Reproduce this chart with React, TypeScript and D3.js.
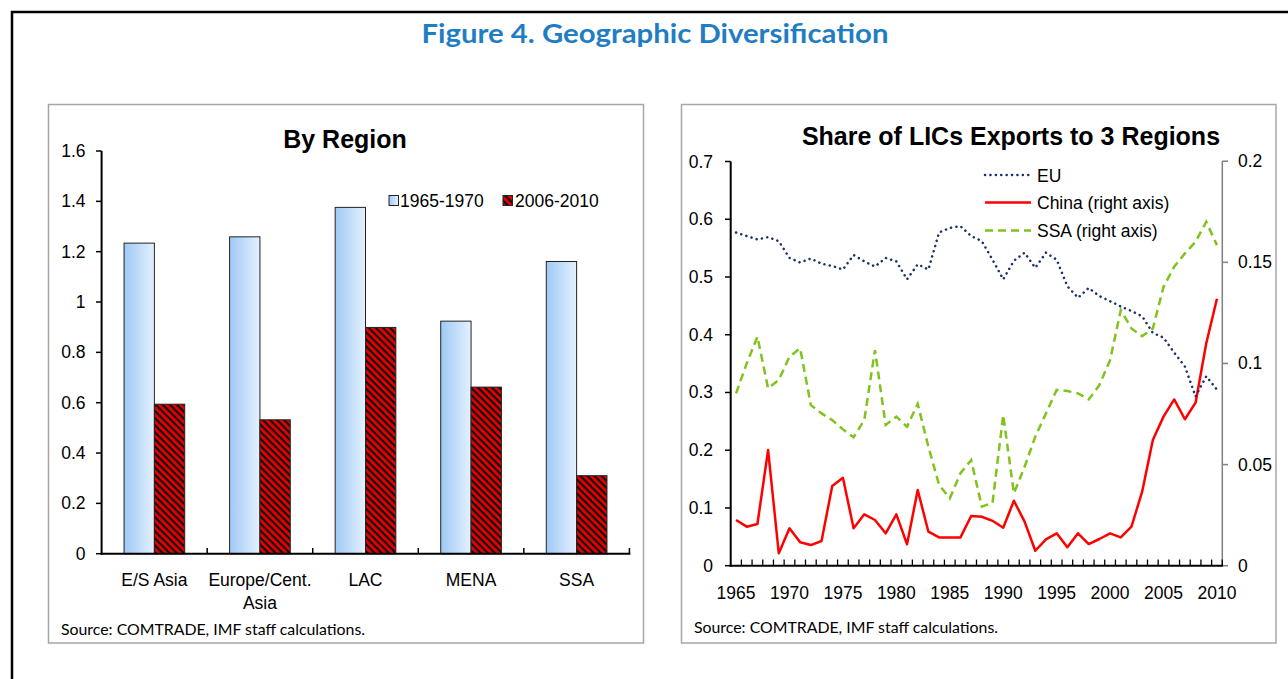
import React from "react";
import * as d3 from "d3";

const categories = ["E/S Asia", "Europe/Cent.|Asia", "LAC", "MENA", "SSA"];
const series1965 = [1.234, 1.259, 1.376, 0.924, 1.161];
const series2006 = [0.594, 0.532, 0.899, 0.662, 0.31];
const barSeries = ["1965-1970", "2006-2010"];
const leftTicks = [0, 0.2, 0.4, 0.6, 0.8, 1, 1.2, 1.4, 1.6];

const years = d3.range(1965, 2011);
const euShare = [0.577,0.571,0.565,0.569,0.562,0.533,0.525,0.532,0.523,0.519,0.513,0.538,0.527,0.518,0.533,0.527,0.496,0.522,0.513,0.577,0.585,0.588,0.571,0.562,0.530,0.496,0.528,0.542,0.516,0.542,0.530,0.484,0.464,0.481,0.467,0.458,0.449,0.441,0.432,0.403,0.395,0.369,0.345,0.293,0.328,0.305];
const chinaShare = [0.0226,0.0193,0.0206,0.0572,0.0061,0.0185,0.0116,0.0102,0.0122,0.0394,0.0435,0.0185,0.0254,0.0226,0.016,0.0254,0.0106,0.0374,0.0168,0.014,0.014,0.014,0.0246,0.0242,0.0222,0.0188,0.0321,0.0218,0.0074,0.013,0.016,0.0091,0.016,0.0107,0.0132,0.016,0.014,0.0193,0.0366,0.0621,0.0737,0.0822,0.0724,0.0806,0.11,0.132];
const ssaShare = [0.0852,0.1,0.1132,0.0877,0.0918,0.1033,0.1075,0.0794,0.0753,0.072,0.0674,0.0635,0.072,0.1066,0.0696,0.0737,0.0687,0.08,0.0588,0.0399,0.0333,0.0457,0.0522,0.0292,0.0311,0.0745,0.0358,0.0489,0.0638,0.0753,0.0869,0.0864,0.0852,0.0822,0.0893,0.1017,0.1264,0.1173,0.1135,0.1173,0.1379,0.1478,0.1544,0.1602,0.17,0.1585];
const rightLeftTicks = [0, 0.1, 0.2, 0.3, 0.4, 0.5, 0.6, 0.7];
const rightRightTicks = [0, 0.05, 0.1, 0.15, 0.2];
const yearLabels = [1965, 1970, 1975, 1980, 1985, 1990, 1995, 2000, 2005, 2010];

const ARIAL = "'Liberation Sans', Arial, sans-serif";
const SRC = "Lato, 'Open Sans', sans-serif";

export default function App() {
  // Left chart
  const ly = d3.scaleLinear().domain([0, 1.6]).range([553.7, 151]);
  const lx = d3.scaleBand().domain(categories).range([101.6, 629.4]).paddingInner(0).paddingOuter(0);
  const inner = d3.scaleBand().domain(barSeries).range([0, lx.bandwidth()]).paddingInner(0).paddingOuter(0.74);
  const fmt = (v: number) => String(+v.toFixed(2));

  // Right chart
  const rx = d3.scaleBand<number>().domain(years).range([730.7, 1222.3]);
  const ryL = d3.scaleLinear().domain([0, 0.7]).range([565.7, 161.5]);
  const ryR = d3.scaleLinear().domain([0, 0.2]).range([565.7, 161.2]);
  const cx = (yr: number) => (rx(yr) as number) + rx.bandwidth() / 2;
  const lineL = d3.line<number>().x((_, i) => cx(years[i])).y((d) => ryL(d));
  const lineR = d3.line<number>().x((_, i) => cx(years[i])).y((d) => ryR(d));

  const tickFs = 17.5;

  return (
    <svg width={1288} height={679} style={{ position: "absolute", left: 0, top: 0, background: "#fff" }}>
      <defs>
        <linearGradient id="blueGrad" x1="0" x2="1" y1="0" y2="0">
          <stop offset="0" stopColor="#9fc9f4" />
          <stop offset="1" stopColor="#e4f1ff" />
        </linearGradient>
        <pattern id="hatch" width="5" height="5" patternUnits="userSpaceOnUse" patternTransform="rotate(45)">
          <rect width="5" height="5" fill="#e80000" />
          <rect width="5" height="2.2" fill="#111" />
        </pattern>
      </defs>

      {/* outer frame */}
      <line x1={11} x2={1288} y1={12} y2={12} stroke="#000" strokeWidth={2.5} />
      <line x1={12} x2={12} y1={11} y2={679} stroke="#000" strokeWidth={2.5} />

      <text x={655} y={43} textAnchor="middle" fill="#1f7ec3" fontFamily={SRC} fontWeight="bold" fontSize={27.5} textLength={467} lengthAdjust="spacingAndGlyphs">
        Figure 4. Geographic Diversification
      </text>

      {/* Left panel */}
      <rect x={48.5} y={104.5} width={595} height={538.5} fill="#fff" stroke="#a6a6a6" strokeWidth={1.5} />
      <text x={345} y={148} textAnchor="middle" fontFamily={ARIAL} fontWeight="bold" fontSize={25}>By Region</text>

      {categories.map((c, i) => {
        const x0 = lx(c) as number;
        const xa = x0 + (inner(barSeries[0]) as number);
        const xb = x0 + (inner(barSeries[1]) as number);
        const w = inner.bandwidth();
        return (
          <g key={c}>
            <rect x={xa} y={ly(series1965[i])} width={w} height={ly(0) - ly(series1965[i])} fill="url(#blueGrad)" stroke="#222" strokeWidth={1} />
            <rect x={xb} y={ly(series2006[i])} width={w} height={ly(0) - ly(series2006[i])} fill="url(#hatch)" stroke="#222" strokeWidth={1} />
          </g>
        );
      })}

      {/* left axes */}
      <line x1={101.6} x2={101.6} y1={151} y2={554.7} stroke="#000" strokeWidth={2} />
      {leftTicks.map((t) => (
        <g key={t}>
          <line x1={96} x2={101.6} y1={ly(t)} y2={ly(t)} stroke="#000" strokeWidth={1.5} />
          <text x={85.5} y={ly(t) + 6} textAnchor="end" fontFamily={ARIAL} fontSize={tickFs}>{fmt(t)}</text>
        </g>
      ))}
      <line x1={100.6} x2={630.4} y1={553.7} y2={553.7} stroke="#000" strokeWidth={2} />
      {categories.map((c) => (
        <line key={c} x1={(lx(c) as number) + lx.bandwidth()} x2={(lx(c) as number) + lx.bandwidth()} y1={548} y2={553.7} stroke="#000" strokeWidth={1.5} />
      ))}
      {categories.map((c) => {
        const parts = c.split("|");
        const x = (lx(c) as number) + lx.bandwidth() / 2;
        return (
          <text key={c} x={x} y={586} textAnchor="middle" fontFamily={ARIAL} fontSize={tickFs}>
            {parts.map((p, j) => (
              <tspan key={j} x={x} dy={j === 0 ? 0 : 23}>{p}</tspan>
            ))}
          </text>
        );
      })}

      {/* left legend */}
      <rect x={389} y={195.5} width={9.5} height={10} fill="url(#blueGrad)" stroke="#222" strokeWidth={1} />
      <text x={400} y={206.5} fontFamily={ARIAL} fontSize={tickFs}>{barSeries[0]}</text>
      <rect x={503} y={195.5} width={9.5} height={10} fill="url(#hatch)" stroke="#222" strokeWidth={1} />
      <text x={515} y={206.5} fontFamily={ARIAL} fontSize={tickFs}>{barSeries[1]}</text>

      <text x={61} y={635} fontFamily={SRC} fontSize={15} textLength={304} lengthAdjust="spacingAndGlyphs">Source: COMTRADE, IMF staff calculations.</text>

      {/* Right panel */}
      <rect x={681.5} y={104.5} width={594.5} height={538.5} fill="#fff" stroke="#a6a6a6" strokeWidth={1.5} />
      <text x={1011} y={145} textAnchor="middle" fontFamily={ARIAL} fontWeight="bold" fontSize={25}>Share of LICs Exports to 3 Regions</text>

      {/* series */}
      <path d={lineR(ssaShare) || ""} fill="none" stroke="#7fc31c" strokeWidth={2.5} strokeDasharray="8 5" />
      <path d={lineR(chinaShare) || ""} fill="none" stroke="#ff0000" strokeWidth={2.5} strokeLinejoin="round" />
      <path d={lineL(euShare) || ""} fill="none" stroke="#1a2f6b" strokeWidth={2.5} strokeDasharray="0.1 5.3" strokeLinecap="round" />

      {/* right chart axes */}
      <line x1={730.7} x2={730.7} y1={161.5} y2={566.7} stroke="#000" strokeWidth={2} />
      {rightLeftTicks.map((t) => (
        <g key={t}>
          <line x1={725} x2={730.7} y1={ryL(t)} y2={ryL(t)} stroke="#000" strokeWidth={1.5} />
          <text x={713} y={ryL(t) + 6} textAnchor="end" fontFamily={ARIAL} fontSize={tickFs}>{fmt(t)}</text>
        </g>
      ))}
      <line x1={1222.3} x2={1222.3} y1={161.2} y2={565.7} stroke="#808080" strokeWidth={1.5} />
      {rightRightTicks.map((t) => (
        <g key={t}>
          <line x1={1222.3} x2={1228} y1={ryR(t)} y2={ryR(t)} stroke="#808080" strokeWidth={1.5} />
          <text x={1238} y={ryR(t) + 6} fontFamily={ARIAL} fontSize={tickFs}>{fmt(t)}</text>
        </g>
      ))}
      <line x1={729.7} x2={1223} y1={565.7} y2={565.7} stroke="#000" strokeWidth={2} />
      {years.map((yr) => (
        <line key={yr} x1={(rx(yr) as number) + rx.bandwidth()} x2={(rx(yr) as number) + rx.bandwidth()} y1={559.5} y2={565.7} stroke="#000" strokeWidth={1.3} />
      ))}
      {yearLabels.map((yr) => (
        <text key={yr} x={cx(yr)} y={598.5} textAnchor="middle" fontFamily={ARIAL} fontSize={tickFs}>{yr}</text>
      ))}

      {/* right legend */}
      <line x1={985} x2={1030} y1={175} y2={175} stroke="#1a2f6b" strokeWidth={2.5} strokeDasharray="0.1 5.3" strokeLinecap="round" />
      <text x={1037} y={181.5} fontFamily={ARIAL} fontSize={tickFs}>EU</text>
      <line x1={985} x2={1031} y1={202.5} y2={202.5} stroke="#ff0000" strokeWidth={2.5} />
      <text x={1037} y={209} fontFamily={ARIAL} fontSize={tickFs}>China (right axis)</text>
      <line x1={985} x2={1031} y1={230.5} y2={230.5} stroke="#7fc31c" strokeWidth={2.5} strokeDasharray="8 5" />
      <text x={1037} y={237} fontFamily={ARIAL} fontSize={tickFs}>SSA (right axis)</text>

      <text x={694} y={633} fontFamily={SRC} fontSize={15} textLength={304} lengthAdjust="spacingAndGlyphs">Source: COMTRADE, IMF staff calculations.</text>
    </svg>
  );
}
